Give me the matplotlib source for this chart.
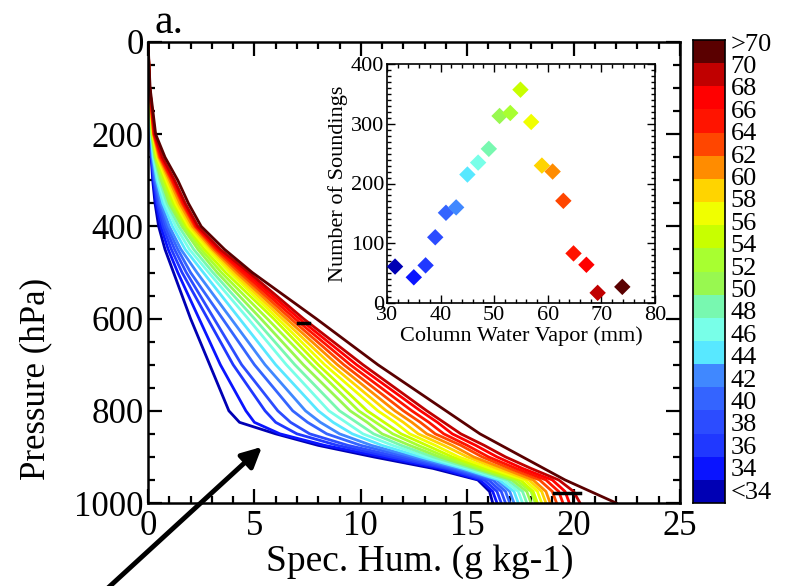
import numpy as np
import matplotlib
matplotlib.use('Agg')
import matplotlib.pyplot as plt
from matplotlib.colors import ListedColormap
from matplotlib.patches import FancyArrowPatch

plt.rcParams['font.family'] = ['Liberation Serif', 'DejaVu Serif']

# ---------------- data ----------------
pressure = [0, 100, 200, 250, 300, 350, 400, 450, 500, 600, 700, 800,
            825, 850, 875, 900, 925, 950, 975, 1000]

bin_labels = ['<34', '34', '36', '38', '40', '42', '44', '46', '48', '50',
              '52', '54', '56', '58', '60', '62', '64', '66', '68', '>70']

q_lt34 = [0, 0.03, 0.10, 0.15, 0.22, 0.33, 0.50, 0.80, 1.20, 2.0, 2.9, 3.8, 4.3, 6.0, 8.0, 10.6, 13.4, 15.5, 16.05, 16.2]
q_34 = [0, 0.03, 0.11, 0.17, 0.25, 0.38, 0.60, 0.95, 1.40, 2.4, 3.4, 4.6, 5.0, 6.2, 8.3, 11.0, 13.7, 15.6, 16.2, 16.4]
q_36 = [0, 0.03, 0.12, 0.18, 0.28, 0.44, 0.70, 1.10, 1.60, 2.8, 4.0, 5.5, 6.0, 7.0, 8.9, 11.4, 14.0, 15.8, 16.4, 16.6]
q_38 = [0, 0.04, 0.12, 0.19, 0.30, 0.50, 0.80, 1.25, 1.80, 3.1, 4.4, 6.1, 6.7, 7.6, 9.4, 11.8, 14.2, 16.0, 16.6, 16.8]
q_40 = [0, 0.04, 0.13, 0.20, 0.33, 0.56, 0.90, 1.40, 2.00, 3.5, 5.0, 6.8, 7.5, 8.4, 10.0, 12.2, 14.4, 16.2, 16.8, 17.0]
q_42 = [0, 0.04, 0.14, 0.22, 0.37, 0.62, 1.00, 1.55, 2.30, 3.9, 5.5, 7.4, 8.1, 9.0, 10.5, 12.5, 14.6, 16.4, 17.0, 17.2]
q_44 = [0, 0.04, 0.15, 0.24, 0.42, 0.70, 1.15, 1.75, 2.60, 4.3, 6.0, 8.0, 8.7, 9.6, 11.0, 12.8, 14.8, 16.5, 17.2, 17.4]
q_46 = [0, 0.05, 0.16, 0.27, 0.48, 0.80, 1.30, 1.95, 2.85, 4.7, 6.5, 8.5, 9.3, 10.1, 11.5, 13.1, 15.0, 16.7, 17.4, 17.6]
q_48 = [0, 0.05, 0.17, 0.30, 0.55, 0.90, 1.45, 2.15, 3.05, 5.0, 6.9, 9.0, 9.8, 10.6, 11.9, 13.4, 15.2, 16.9, 17.6, 17.8]
q_50 = [0, 0.05, 0.18, 0.33, 0.62, 1.00, 1.60, 2.35, 3.25, 5.3, 7.3, 9.5, 10.3, 11.0, 12.3, 13.7, 15.4, 17.1, 17.8, 18.0]
q_52 = [0, 0.06, 0.20, 0.36, 0.70, 1.10, 1.70, 2.50, 3.45, 5.6, 7.7, 9.9, 10.7, 11.5, 12.7, 14.0, 15.6, 17.3, 18.0, 18.2]
q_54 = [0, 0.06, 0.21, 0.40, 0.78, 1.20, 1.80, 2.65, 3.65, 5.9, 8.0, 10.3, 11.1, 11.9, 13.1, 14.3, 15.8, 17.5, 18.1, 18.3]
q_56 = [0, 0.06, 0.23, 0.44, 0.86, 1.30, 1.90, 2.80, 3.85, 6.1, 8.3, 10.8, 11.6, 12.3, 13.5, 14.6, 16.1, 17.7, 18.3, 18.5]
q_58 = [0, 0.07, 0.24, 0.48, 0.94, 1.40, 2.00, 2.95, 4.00, 6.3, 8.6, 11.2, 12.0, 12.7, 13.9, 15.0, 16.4, 17.9, 18.5, 18.7]
q_60 = [0, 0.07, 0.26, 0.52, 1.02, 1.50, 2.10, 3.05, 4.15, 6.5, 8.9, 11.6, 12.4, 13.1, 14.3, 15.3, 16.7, 18.1, 18.7, 18.9]
q_62 = [0, 0.07, 0.27, 0.56, 1.10, 1.60, 2.20, 3.15, 4.30, 6.7, 9.2, 12.0, 12.8, 13.5, 14.7, 15.7, 17.0, 18.4, 19.0, 19.2]
q_64 = [0, 0.08, 0.29, 0.60, 1.15, 1.65, 2.25, 3.25, 4.45, 6.9, 9.5, 12.4, 13.2, 13.9, 15.0, 16.0, 17.3, 18.7, 19.3, 19.5]
q_66 = [0, 0.08, 0.30, 0.64, 1.20, 1.70, 2.30, 3.30, 4.60, 7.1, 9.8, 12.8, 13.6, 14.3, 15.4, 16.4, 17.6, 19.0, 19.6, 19.8]
q_68 = [0, 0.08, 0.32, 0.68, 1.25, 1.75, 2.35, 3.40, 4.75, 7.3, 10.1, 13.1, 13.9, 14.7, 15.8, 16.8, 18.0, 19.3, 20.0, 20.3]
q_gt70 = [0, 0.10, 0.36, 0.80, 1.40, 1.90, 2.50, 3.60, 4.90, 7.9, 10.8, 14.0, 14.8, 15.6, 16.6, 17.6, 18.6, 19.6, 20.8, 22.0]

q_profiles = [q_lt34, q_34, q_36, q_38, q_40, q_42, q_44, q_46, q_48, q_50,
              q_52, q_54, q_56, q_58, q_60, q_62, q_64, q_66, q_68, q_gt70]

# colours, driest (bottom of colour bar) to moistest (top)
bin_colors = ['#0000b4', '#0a14ff', '#2038ff', '#2c4cff', '#3464ff', '#4088ff',
              '#58e8ff', '#78ffe8', '#78f8b0', '#98f850', '#a8ff30', '#c8ff00',
              '#f0ff00', '#ffd400', '#ff8c00', '#ff4600', '#ff1400', '#ff0000',
              '#c00000', '#5a0000']

cbar_labels = ['<34', '34', '36', '38', '40', '42', '44', '46', '48', '50', '52',
               '54', '56', '58', '60', '62', '64', '66', '68', '70', '>70']

# inset: number of soundings per CWV bin
cwv = [31.5, 35.0, 37.2, 39.0, 41.0, 42.9, 45.0, 47.0, 49.0, 51.0,
       53.0, 54.9, 56.9, 58.9, 60.9, 62.9, 64.8, 67.2, 69.3, 73.9]
n_soundings = [61, 43, 63, 110, 151, 160, 215, 235, 258, 313,
               318, 357, 303, 230, 220, 171, 83, 64, 17, 27]

# error-bar marks
err1_q = [7.05, 7.55]
err1_p = [610, 610]
err2_q = [19.1, 20.3]
err2_p = [978, 978]
err2_stem_q = [19.95, 19.95]
err2_stem_p = [978, 1000]

# ---------------- figure ----------------
fig = plt.figure(figsize=(7.92, 5.86), dpi=100)

ax = fig.add_axes([148/792, 1-503/586, 532/792, 461/586])
for q, c in zip(q_profiles, bin_colors):
    ax.plot(q, pressure, color=c, lw=2.0, solid_joinstyle='round')

ax.plot(err1_q, err1_p, color='black', lw=2.5)
ax.plot(err2_q, err2_p, color='black', lw=2.5)
ax.plot(err2_stem_q, err2_stem_p, color='black', lw=1.5)

ax.set_xlim(0, 25)
ax.set_ylim(1000, 0)
ax.set_xticks([0, 5, 10, 15, 20, 25])
ax.set_yticks([0, 200, 400, 600, 800, 1000])
ax.set_xticks(np.arange(0, 26, 1), minor=True)
ax.set_yticks(np.arange(0, 1001, 50), minor=True)
ax.tick_params(which='both', direction='in', top=True, right=True, width=1.6,
               labelsize=25)
ax.tick_params(axis='x', pad=5)
ax.tick_params(axis='y', pad=3)
ax.tick_params(which='major', length=10)
ax.tick_params(which='minor', length=5)
for s in ax.spines.values():
    s.set_linewidth(1.8)
ax.set_xlabel('Spec. Hum. (g kg-1)', fontsize=27)
ax.set_ylabel('Pressure (hPa)', fontsize=25)
ax.xaxis.set_label_coords(0.51, -0.09)
ax.yaxis.set_label_coords(-0.18, 0.27)

fig.text(155/792, 1-33/586, 'a.', fontsize=30, ha='left', va='baseline')

# ---------------- inset ----------------
axi = fig.add_axes([387/792, 1-303/586, 268/792, 239/586])
axi.scatter(cwv, n_soundings, c=bin_colors, marker='D', s=70, linewidths=0, zorder=3)
axi.set_xlim(30, 80)
axi.set_ylim(0, 400)
axi.set_xticks([30, 40, 50, 60, 70, 80])
axi.set_yticks([0, 100, 200, 300, 400])
axi.set_xticks(np.arange(30, 81, 2), minor=True)
axi.set_yticks(np.arange(0, 401, 10), minor=True)
axi.tick_params(which='both', direction='in', top=True, right=True, width=1.0,
                labelsize=16, pad=2)
axi.tick_params(which='major', length=6)
axi.tick_params(which='minor', length=3)
for s in axi.spines.values():
    s.set_linewidth(1.2)
axi.set_xlabel('Column Water Vapor (mm)', fontsize=16, labelpad=1)
axi.set_ylabel('Number of Soundings', fontsize=16, labelpad=2)

# ---------------- colour bar ----------------
axc = fig.add_axes([693/792, 1-503/586, 32/792, 463/586])
nb = len(bin_colors)
cmap = ListedColormap(bin_colors)
axc.pcolormesh([0, 1], np.arange(nb + 1), np.arange(nb).reshape(-1, 1),
               cmap=cmap, vmin=-0.5, vmax=nb - 0.5)
axc.set_xlim(0, 1)
axc.set_ylim(0, nb)
axc.set_xticks([])
axc.yaxis.tick_right()
axc.set_yticks(np.linspace(0.56, 19.91, len(cbar_labels)))
axc.set_yticklabels(cbar_labels)
axc.tick_params(axis='y', length=0, labelsize=19, pad=4)
for s in axc.spines.values():
    s.set_linewidth(1.2)

# ---------------- arrow ----------------
arrow = FancyArrowPatch((97/792, 1-598/586), (264/792, 1-445/586),
                        transform=fig.transFigure, arrowstyle='-|>',
                        mutation_scale=30, lw=3.5, color='black')
fig.add_artist(arrow)

fig.savefig('out.png', dpi=100)
